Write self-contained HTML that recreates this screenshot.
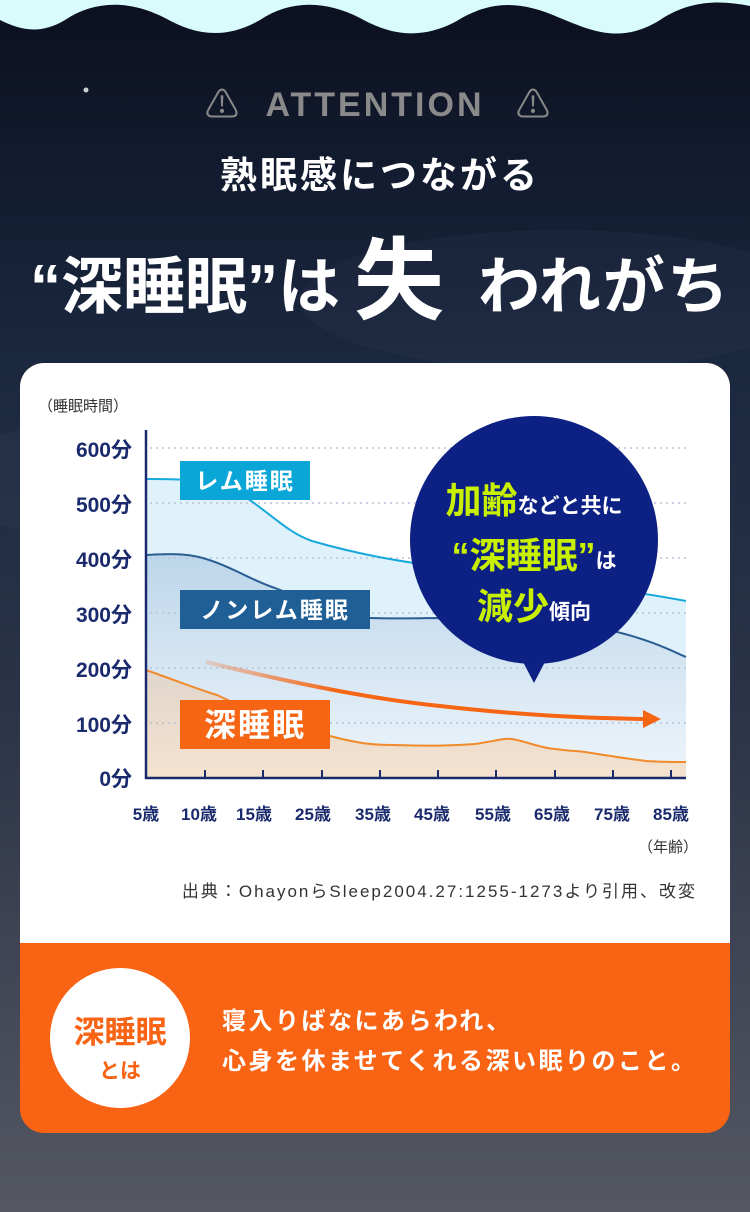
<!DOCTYPE html>
<html><head><meta charset="utf-8"><style>
html,body{margin:0;padding:0;width:750px;height:1212px;overflow:hidden;}
svg{display:block;}
text{font-family:"Liberation Sans","Noto Sans CJK JP",sans-serif;}
</style></head><body>
<svg width="750" height="1212" viewBox="0 0 750 1212" xmlns="http://www.w3.org/2000/svg">
<defs>
<linearGradient id="bg" x1="0" y1="0" x2="0" y2="1">
<stop offset="0" stop-color="#0c1020"/>
<stop offset="0.3" stop-color="#1a2840"/>
<stop offset="0.6" stop-color="#2c3448"/>
<stop offset="1" stop-color="#555862"/>
</linearGradient>
<linearGradient id="nrem" x1="0" y1="0" x2="0" y2="1">
<stop offset="0" stop-color="#bcd6ea"/>
<stop offset="1" stop-color="#eef5fb"/>
</linearGradient>
<linearGradient id="deep" x1="0" y1="0" x2="0" y2="1">
<stop offset="0" stop-color="#e0d6cc"/>
<stop offset="1" stop-color="#f5e2cf"/>
</linearGradient>
<linearGradient id="arr" x1="0" y1="0" x2="1" y2="0">
<stop offset="0" stop-color="#f56514" stop-opacity="0.2"/>
<stop offset="0.3" stop-color="#f56514"/>
<stop offset="1" stop-color="#f56514"/>
</linearGradient>
</defs>
<rect width="750" height="1212" fill="url(#bg)"/>
<ellipse cx="200" cy="480" rx="260" ry="70" fill="#3a4560" opacity="0.2"/>
<ellipse cx="560" cy="300" rx="260" ry="70" fill="#3a4560" opacity="0.15"/>
<path d="M0 0 H750 V6 C720 0 690 0 660 20 C620 45 590 30 560 18 C520 0 490 0 455 22 C420 40 390 35 360 18 C325 0 290 0 260 20 C225 40 195 35 165 18 C130 0 95 0 65 20 C40 35 20 30 0 20 Z" fill="#d9fbfb"/>
<circle cx="86" cy="90" r="2.5" fill="#fff" opacity="0.8"/>
<text x="375" y="116" text-anchor="middle" font-size="34" fill="#8a8a8a" letter-spacing="3" font-weight="bold">ATTENTION</text>
<text x="222" y="117" text-anchor="middle" font-size="34" fill="#8a8a8a">⚠</text>
<text x="533" y="117" text-anchor="middle" font-size="34" fill="#8a8a8a">⚠</text>
<text x="380" y="188" text-anchor="middle" font-size="37" fill="#fff" font-weight="bold" letter-spacing="3">熟眠感につながる</text>
<text x="30" y="308" font-size="62" fill="#fff" font-weight="bold">“深睡眠”は</text>
<text x="354" y="312" font-size="90" fill="#fff" font-weight="bold">失</text>
<text x="478" y="308" font-size="62" fill="#fff" font-weight="bold" letter-spacing="2">われがち</text>

<rect x="20" y="363" width="710" height="770" rx="24" fill="#f86314"/>
<path d="M20 387 A24 24 0 0 1 44 363 H706 A24 24 0 0 1 730 387 V943 H20 Z" fill="#fff"/>

<text x="38" y="411" font-size="15" fill="#333">（睡眠時間）</text>
<path d="M146 479 C180 479 200 480 219 483 C260 500 280 530 312 541 C350 552 380 558 414 563 C500 575 600 585 686 601 V778 H146 Z" fill="#dff2fb"/>
<path d="M146 555 C180 553 190 555 199 557 C230 565 250 580 275 588 C320 605 340 617 370 618 C400 619 420 618 439 618 C520 620 580 625 617 632 C650 640 670 650 686 657 V778 H146 Z" fill="url(#nrem)"/>
<path d="M146 670 C180 682 200 690 217 695 C260 715 290 730 330 736 C360 744 375 745 392 745 C430 746 450 746 475 744 C495 741 505 738 512 739 C525 741 540 748 555 749 C570 751 578 751 585 752 C610 756 630 759 646 761 C660 762 675 762 686 762 V778 H146 Z" fill="url(#deep)"/>
<g stroke="#b8c2d8" stroke-width="1.5" stroke-dasharray="2 4">
<line x1="150" y1="448" x2="686" y2="448"/><line x1="150" y1="503" x2="686" y2="503"/><line x1="150" y1="558" x2="686" y2="558"/><line x1="150" y1="613" x2="686" y2="613"/><line x1="150" y1="668" x2="686" y2="668"/><line x1="150" y1="723" x2="686" y2="723"/>
</g>
<path d="M146 479 C180 479 200 480 219 483 C260 500 280 530 312 541 C350 552 380 558 414 563 C500 575 600 585 686 601" fill="none" stroke="#17a8dc" stroke-width="2"/>
<path d="M146 555 C180 553 190 555 199 557 C230 565 250 580 275 588 C320 605 340 617 370 618 C400 619 420 618 439 618 C520 620 580 625 617 632 C650 640 670 650 686 657" fill="none" stroke="#2a5e92" stroke-width="2"/>
<path d="M146 670 C180 682 200 690 217 695 C260 715 290 730 330 736 C360 744 375 745 392 745 C430 746 450 746 475 744 C495 741 505 738 512 739 C525 741 540 748 555 749 C570 751 578 751 585 752 C610 756 630 759 646 761 C660 762 675 762 686 762" fill="none" stroke="#f08a2a" stroke-width="2"/>
<path d="M206 662 C300 685 380 700 440 706 C520 715 580 718 645 719" fill="none" stroke="url(#arr)" stroke-width="4"/>
<path d="M643 710 L661 719 L643 728 Z" fill="#f56514"/>
<g stroke="#1a2a6c" stroke-width="2.5">
<line x1="146" y1="430" x2="146" y2="779"/><line x1="145" y1="778" x2="686" y2="778"/>
</g>
<g stroke="#1a2a6c" stroke-width="2">
<line x1="205" y1="770" x2="205" y2="778"/><line x1="263" y1="770" x2="263" y2="778"/><line x1="322" y1="770" x2="322" y2="778"/><line x1="380" y1="770" x2="380" y2="778"/><line x1="438" y1="770" x2="438" y2="778"/><line x1="496" y1="770" x2="496" y2="778"/><line x1="555" y1="770" x2="555" y2="778"/><line x1="613" y1="770" x2="613" y2="778"/><line x1="671" y1="770" x2="671" y2="778"/>
</g>
<g font-size="21" fill="#1a2a6c" font-weight="bold" text-anchor="end">
<text x="132" y="457">600分</text><text x="132" y="512">500分</text><text x="132" y="567">400分</text><text x="132" y="622">300分</text><text x="132" y="677">200分</text><text x="132" y="732">100分</text><text x="132" y="786">0分</text>
</g>
<g font-size="17" fill="#1a2a6c" font-weight="bold" text-anchor="middle">
<text x="146" y="820">5歳</text><text x="199" y="820">10歳</text><text x="254" y="820">15歳</text><text x="313" y="820">25歳</text><text x="373" y="820">35歳</text><text x="432" y="820">45歳</text><text x="493" y="820">55歳</text><text x="552" y="820">65歳</text><text x="612" y="820">75歳</text><text x="671" y="820">85歳</text>
</g>
<text x="698" y="852" font-size="15" fill="#333" text-anchor="end">（年齢）</text>
<text x="697" y="897" font-size="17" fill="#333" text-anchor="end" letter-spacing="2">出典：OhayonらSleep2004.27:1255-1273より引用、改変</text>

<rect x="180" y="461" width="130" height="39" fill="#0aa6d8"/>
<text x="245" y="489" font-size="23" fill="#fff" font-weight="bold" text-anchor="middle" letter-spacing="2">レム睡眠</text>
<rect x="180" y="590" width="190" height="39" fill="#1f5f96"/>
<text x="275" y="618" font-size="23" fill="#fff" font-weight="bold" text-anchor="middle" letter-spacing="2">ノンレム睡眠</text>
<rect x="180" y="700" width="150" height="49" fill="#f56514"/>
<text x="255" y="736" font-size="32" fill="#fff" font-weight="bold" text-anchor="middle" letter-spacing="2">深睡眠</text>

<circle cx="534" cy="540" r="124" fill="#0d2184"/>
<path d="M522 660 L534 683 L546 660 Z" fill="#0d2184"/>
<text x="534" y="513" text-anchor="middle" fill="#fff" font-weight="bold"><tspan font-size="36" fill="#c8f000">加齢</tspan><tspan font-size="21">などと共に</tspan></text>
<text x="534" y="568" text-anchor="middle" fill="#c8f000" font-weight="bold"><tspan font-size="36">“深睡眠”</tspan><tspan font-size="21" fill="#fff">は</tspan></text>
<text x="534" y="619" text-anchor="middle" fill="#c8f000" font-weight="bold"><tspan font-size="36">減少</tspan><tspan font-size="21" fill="#fff">傾向</tspan></text>

<ellipse cx="120" cy="1038" rx="70" ry="70" fill="#fff"/>
<text x="120" y="1043" text-anchor="middle" font-size="31" fill="#f86314" font-weight="bold">深睡眠</text>
<text x="120" y="1078" text-anchor="middle" font-size="21" fill="#f86314" font-weight="bold">とは</text>
<text x="222" y="1029" font-size="24" fill="#fff" font-weight="bold" letter-spacing="2.5">寝入りばなにあらわれ、</text>
<text x="222" y="1069" font-size="24" fill="#fff" font-weight="bold" letter-spacing="2.5">心身を休ませてくれる深い眠りのこと。</text>
</svg>
</body></html>
